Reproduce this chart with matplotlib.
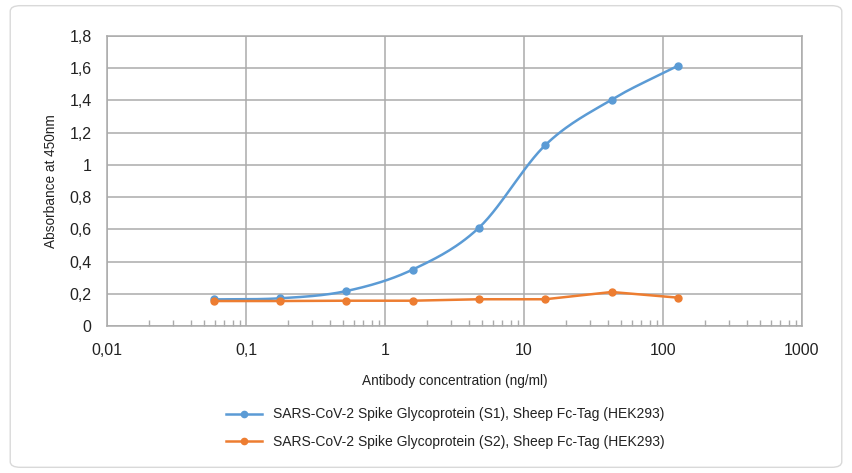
import numpy as np
import matplotlib
matplotlib.use("Agg")
import matplotlib.pyplot as plt
from matplotlib.patches import FancyBboxPatch
from matplotlib.ticker import FixedLocator, FuncFormatter, LogLocator, NullFormatter

plt.rcParams['font.family'] = ['Liberation Sans', 'DejaVu Sans']

# Antibody concentration (ng/ml), 3-fold dilution series
concentration = [0.0586, 0.176, 0.527, 1.58, 4.74, 14.2, 42.7, 128.0]
s1_absorbance = [0.165, 0.172, 0.217, 0.350, 0.610, 1.122, 1.405, 1.615]
s2_absorbance = [0.155, 0.155, 0.157, 0.157, 0.166, 0.166, 0.211, 0.176]

series_names = [
    "SARS-CoV-2 Spike Glycoprotein (S1), Sheep Fc-Tag (HEK293)",
    "SARS-CoV-2 Spike Glycoprotein (S2), Sheep Fc-Tag (HEK293)",
]
x_ticks = [0.01, 0.1, 1, 10, 100, 1000]
y_ticks = [0, 0.2, 0.4, 0.6, 0.8, 1.0, 1.2, 1.4, 1.6, 1.8]

BLUE = "#5B9BD5"
ORANGE = "#ED7D31"
GRID = "#ABABAB"


def smooth_curve(x, y, n=30):
    """Catmull-Rom style smoothing in log-x space (spreadsheet 'smoothed line')."""
    lx = np.log10(np.asarray(x, float))
    yy = np.asarray(y, float)
    px = np.concatenate([[2 * lx[0] - lx[1]], lx, [2 * lx[-1] - lx[-2]]])
    py = np.concatenate([[2 * yy[0] - yy[1]], yy, [2 * yy[-1] - yy[-2]]])
    out_x, out_y = [], []
    t = np.linspace(0, 1, n)
    for i in range(1, len(px) - 2):
        p0, p1, p2, p3 = px[i - 1], px[i], px[i + 1], px[i + 2]
        q0, q1, q2, q3 = py[i - 1], py[i], py[i + 1], py[i + 2]
        # Bezier control points with tension 1/6
        c1x, c1y = p1 + (p2 - p0) / 6, q1 + (q2 - q0) / 6
        c2x, c2y = p2 - (p3 - p1) / 6, q2 - (q3 - q1) / 6
        bx = (1 - t) ** 3 * p1 + 3 * (1 - t) ** 2 * t * c1x + 3 * (1 - t) * t ** 2 * c2x + t ** 3 * p2
        by = (1 - t) ** 3 * q1 + 3 * (1 - t) ** 2 * t * c1y + 3 * (1 - t) * t ** 2 * c2y + t ** 3 * q2
        out_x.extend(bx)
        out_y.extend(by)
    return 10 ** np.array(out_x), np.array(out_y)


fig = plt.figure(figsize=(8.52, 4.73), dpi=100)

# rounded outer frame, kept behind the axes
frame = FancyBboxPatch((0.012, 0.012), 0.976, 0.976,
                       boxstyle="round,pad=0,rounding_size=0.012",
                       transform=fig.transFigure, facecolor="white",
                       edgecolor="#D9D9D9", linewidth=1.0, zorder=-10)
fig.patches.append(frame)

ax = fig.add_axes([107 / 852, 1 - 326 / 473, (802 - 107) / 852, (326 - 36) / 473])
ax.set_zorder(5)
ax.patch.set_alpha(0)
ax.set_xscale("log")
ax.set_xlim(0.01, 1000)
ax.set_ylim(0, 1.8)

sx, sy = smooth_curve(concentration, s1_absorbance)
ax.plot(sx, sy, color=BLUE, lw=1.8, zorder=3)
ax.plot(concentration, s1_absorbance, "o", color=BLUE, ms=5, zorder=4)
ax.plot(concentration, s2_absorbance, "-o", color=ORANGE, lw=1.8, ms=5, zorder=4)

ax.xaxis.set_major_locator(FixedLocator(x_ticks))
ax.xaxis.set_major_formatter(FuncFormatter(lambda v, p: f"{v:g}".replace(".", ",")))
ax.xaxis.set_minor_locator(LogLocator(base=10, subs=np.arange(2, 10)))
ax.xaxis.set_minor_formatter(NullFormatter())
ax.yaxis.set_major_locator(FixedLocator(y_ticks))
ax.yaxis.set_major_formatter(FuncFormatter(lambda v, p: f"{v:g}".replace(".", ",")))

ax.grid(True, which="major", color=GRID, lw=1.1)
ax.set_axisbelow(True)
for s in ax.spines.values():
    s.set_color(GRID)
    s.set_linewidth(1.1)
ax.tick_params(axis="both", which="major", length=0, labelsize=11.5, colors="#222222")
ax.tick_params(axis="x", which="major", pad=12)
ax.tick_params(axis="y", which="major", pad=11)
ax.tick_params(axis="x", which="minor", direction="in", length=4, color=GRID, width=1)

ax.set_xlabel("Antibody concentration (ng/ml)", fontsize=9.8, color="#222222", labelpad=12)
ax.set_ylabel("Absorbance at 450nm", fontsize=9.8, color="#222222", labelpad=8)

handles = [
    plt.Line2D([], [], color=BLUE, lw=1.8, marker="o", ms=4.5),
    plt.Line2D([], [], color=ORANGE, lw=1.8, marker="o", ms=4.5),
]
fig.legend(handles, series_names, loc="center", bbox_to_anchor=(0.523, 0.095),
           frameon=False, fontsize=10, handlelength=2.6, labelspacing=0.95,
           labelcolor="#222222")

fig.savefig("out.png", dpi=100)
